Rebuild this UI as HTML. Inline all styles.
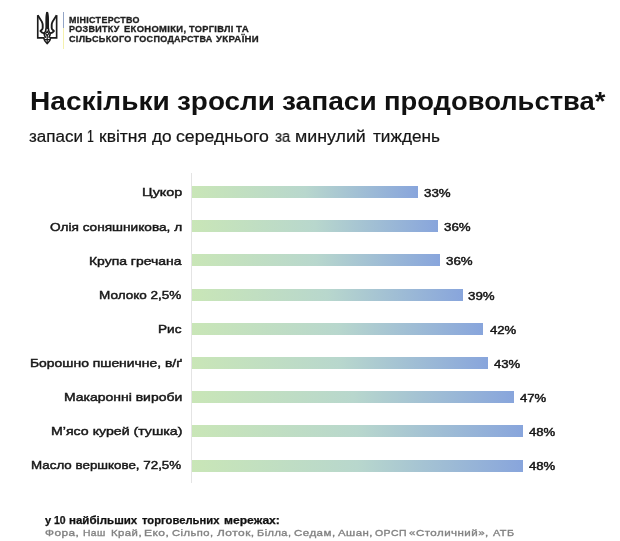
<!DOCTYPE html>
<html lang="uk"><head><meta charset="utf-8"><title>chart</title>
<style>
html,body{margin:0;padding:0;background:#fff;}
body{width:620px;height:541px;position:relative;overflow:hidden;font-family:"Liberation Sans", sans-serif;}
.t{position:absolute;white-space:nowrap;line-height:normal;transform-origin:0 0;font-family:"Liberation Sans", sans-serif;will-change:transform;}
.bar{position:absolute;left:192px;height:11.9px;background:linear-gradient(90deg,#c9e6b7 0%,#b8d7cd 50%,#88a5dc 100%);}
.axis{position:absolute;left:190.5px;top:172.5px;width:1px;height:310.5px;background:#e4e4e4;}
.div1{position:absolute;left:62.7px;top:12.4px;width:1px;height:15.8px;background:#93a5c6;}
.div2{position:absolute;left:62.7px;top:28.2px;width:1px;height:20.5px;background:#f5f1ae;}
</style></head><body>
<svg class="tri" viewBox="0 0 20.4 32" width="20.4" height="32" style="position:absolute;left:36.5px;top:12.4px;overflow:visible" fill="none" stroke="#1c1c1c" stroke-width="1.65" stroke-linejoin="miter" stroke-linecap="butt">
<path d="M0.75,3.2 L0.75,25.9 L6.7,25.9 C7.1,28.3 8.4,30.1 10.2,31.5 C12,30.1 13.3,28.3 13.7,25.9 L19.65,25.9 L19.65,3.2"/>
<path stroke-width="1.9" d="M0.75,3.2 L4.8,9.6 C5.4,10.8 5.7,11.6 5.7,12.8 L5.7,16 C5.7,17.6 4.2,18.2 3.5,19.1 C4.4,20.6 5.9,21.1 7.2,21.4"/>
<path stroke-width="1.9" d="M19.65,3.2 L15.6,9.6 C15,10.8 14.7,11.6 14.7,12.8 L14.7,16 C14.7,17.6 16.2,18.2 16.9,19.1 C16,20.6 14.5,21.1 13.2,21.4"/>
<path d="M10.2,0.2 C9.3,2 9.2,4 9.2,8 L9.2,15.5 C9.1,18.4 8.3,20.2 7.2,21.4 C7.1,23.2 8,24.6 8.6,25.9"/>
<path d="M10.2,0.2 C11.1,2 11.2,4 11.2,8 L11.2,15.5 C11.3,18.4 12.1,20.2 13.2,21.4 C13.3,23.2 12.4,24.6 11.8,25.9"/>
<path d="M10.2,0.6 L10.2,17" stroke-width="1.6"/>
<path d="M10.2,22.6 L10.2,31" stroke-width="1.2"/>
<path d="M7,27.6 L13.4,27.6" stroke-width="1.2"/>
<path d="M10.2,19.2 L8.6,21.6 L10.2,23.6 L11.8,21.6 Z" stroke-width="1.1"/>
</svg>

<div class="div1"></div><div class="div2"></div>
<div class="axis"></div>
<div class='bar' style='top:186.10px;width:226.1px'></div>
<div class='bar' style='top:220.29px;width:246.0px'></div>
<div class='bar' style='top:254.48px;width:248.0px'></div>
<div class='bar' style='top:288.67px;width:271.0px'></div>
<div class='bar' style='top:322.86px;width:291.0px'></div>
<div class='bar' style='top:357.05px;width:296.2px'></div>
<div class='bar' style='top:391.24px;width:321.5px'></div>
<div class='bar' style='top:425.43px;width:331.0px'></div>
<div class='bar' style='top:459.62px;width:331.3px'></div>
<div class='t' style='left:69.16px;top:14.59px;font-size:8.3px;font-weight:bold;color:#1f1f1f;letter-spacing:0.3px;word-spacing:0px;transform:scaleX(1.0734);-webkit-text-stroke:0.3px #1f1f1f;'>МІНІСТЕРСТВО</div>
<div class='t' style='left:69.46px;top:24.19px;font-size:8.3px;font-weight:bold;color:#1f1f1f;letter-spacing:0.3px;word-spacing:0px;transform:scaleX(1.0811);-webkit-text-stroke:0.3px #1f1f1f;'>РОЗВИТКУ</div>
<div class='t' style='left:123.83px;top:24.19px;font-size:8.3px;font-weight:bold;color:#1f1f1f;letter-spacing:0.3px;word-spacing:0px;transform:scaleX(1.1330);-webkit-text-stroke:0.3px #1f1f1f;'>ЕКОНОМІКИ,</div>
<div class='t' style='left:188.70px;top:24.19px;font-size:8.3px;font-weight:bold;color:#1f1f1f;letter-spacing:0.3px;word-spacing:0px;transform:scaleX(1.1108);-webkit-text-stroke:0.3px #1f1f1f;'>ТОРГІВЛІ</div>
<div class='t' style='left:235.90px;top:24.19px;font-size:8.3px;font-weight:bold;color:#1f1f1f;letter-spacing:0.3px;word-spacing:0px;transform:scaleX(1.1714);-webkit-text-stroke:0.3px #1f1f1f;'>ТА</div>
<div class='t' style='left:69.23px;top:33.99px;font-size:8.3px;font-weight:bold;color:#1f1f1f;letter-spacing:0.3px;word-spacing:0px;transform:scaleX(1.0903);-webkit-text-stroke:0.3px #1f1f1f;'>СІЛЬСЬКОГО</div>
<div class='t' style='left:134.16px;top:33.99px;font-size:8.3px;font-weight:bold;color:#1f1f1f;letter-spacing:0.3px;word-spacing:0px;transform:scaleX(1.0825);-webkit-text-stroke:0.3px #1f1f1f;'>ГОСПОДАРСТВА</div>
<div class='t' style='left:216.00px;top:33.99px;font-size:8.3px;font-weight:bold;color:#1f1f1f;letter-spacing:0.3px;word-spacing:0px;transform:scaleX(1.1534);-webkit-text-stroke:0.3px #1f1f1f;'>УКРАЇНИ</div>
<div class='t' style='left:29.83px;top:87.38px;font-size:25px;font-weight:bold;color:#111;letter-spacing:0px;word-spacing:0px;transform:scaleX(1.1231);'>Наскільки</div>
<div class='t' style='left:176.86px;top:87.38px;font-size:25px;font-weight:bold;color:#111;letter-spacing:0px;word-spacing:0px;transform:scaleX(1.1155);'>зросли</div>
<div class='t' style='left:281.86px;top:87.38px;font-size:25px;font-weight:bold;color:#111;letter-spacing:0px;word-spacing:0px;transform:scaleX(1.1229);'>запаси</div>
<div class='t' style='left:383.88px;top:87.38px;font-size:25px;font-weight:bold;color:#111;letter-spacing:0px;word-spacing:0px;transform:scaleX(1.0948);'>продовольства*</div>
<div class='t' style='left:28.97px;top:128.32px;font-size:16px;font-weight:normal;color:#151515;letter-spacing:0px;word-spacing:0px;transform:scaleX(1.0640);-webkit-text-stroke:0.2px #151515;'>запаси</div>
<div class='t' style='left:86.84px;top:128.32px;font-size:16px;font-weight:normal;color:#151515;letter-spacing:0px;word-spacing:0px;transform:scaleX(0.7704);-webkit-text-stroke:0.2px #151515;'>1</div>
<div class='t' style='left:98.91px;top:128.32px;font-size:16px;font-weight:normal;color:#151515;letter-spacing:0px;word-spacing:0px;transform:scaleX(1.0898);-webkit-text-stroke:0.2px #151515;'>квітня</div>
<div class='t' style='left:151.63px;top:128.32px;font-size:16px;font-weight:normal;color:#151515;letter-spacing:0px;word-spacing:0px;transform:scaleX(1.0783);-webkit-text-stroke:0.2px #151515;'>до</div>
<div class='t' style='left:176.07px;top:128.32px;font-size:16px;font-weight:normal;color:#151515;letter-spacing:0px;word-spacing:0px;transform:scaleX(1.1045);-webkit-text-stroke:0.2px #151515;'>середнього</div>
<div class='t' style='left:274.73px;top:128.32px;font-size:16px;font-weight:normal;color:#151515;letter-spacing:0px;word-spacing:0px;transform:scaleX(0.9460);-webkit-text-stroke:0.2px #151515;'>за</div>
<div class='t' style='left:295.39px;top:128.32px;font-size:16px;font-weight:normal;color:#151515;letter-spacing:0px;word-spacing:0px;transform:scaleX(1.1122);-webkit-text-stroke:0.2px #151515;'>минулий</div>
<div class='t' style='left:372.73px;top:128.32px;font-size:16px;font-weight:normal;color:#151515;letter-spacing:0px;word-spacing:0px;transform:scaleX(1.0732);-webkit-text-stroke:0.2px #151515;'>тиждень</div>
<div class='t' style='left:141.68px;top:185.42px;font-size:11.8px;font-weight:normal;color:#161616;letter-spacing:0px;word-spacing:0px;transform:scaleX(1.2190);-webkit-text-stroke:0.45px #161616;'>Цукор</div>
<div class='t' style='left:424.08px;top:187.22px;font-size:10.7px;font-weight:normal;color:#161616;letter-spacing:0px;word-spacing:0px;transform:scaleX(1.2439);-webkit-text-stroke:0.45px #161616;'>33%</div>
<div class='t' style='left:50.02px;top:219.52px;font-size:11.8px;font-weight:normal;color:#161616;letter-spacing:0px;word-spacing:0px;transform:scaleX(1.1566);-webkit-text-stroke:0.45px #161616;'>Олія соняшникова, л</div>
<div class='t' style='left:443.88px;top:221.32px;font-size:10.7px;font-weight:normal;color:#161616;letter-spacing:0px;word-spacing:0px;transform:scaleX(1.2439);-webkit-text-stroke:0.45px #161616;'>36%</div>
<div class='t' style='left:88.82px;top:253.62px;font-size:11.8px;font-weight:normal;color:#161616;letter-spacing:0px;word-spacing:0px;transform:scaleX(1.1819);-webkit-text-stroke:0.45px #161616;'>Крупа гречана</div>
<div class='t' style='left:446.18px;top:255.42px;font-size:10.7px;font-weight:normal;color:#161616;letter-spacing:0px;word-spacing:0px;transform:scaleX(1.2439);-webkit-text-stroke:0.45px #161616;'>36%</div>
<div class='t' style='left:99.35px;top:287.72px;font-size:11.8px;font-weight:normal;color:#161616;letter-spacing:0px;word-spacing:0px;transform:scaleX(1.1461);-webkit-text-stroke:0.45px #161616;'>Молоко 2,5%</div>
<div class='t' style='left:468.28px;top:289.52px;font-size:10.7px;font-weight:normal;color:#161616;letter-spacing:0px;word-spacing:0px;transform:scaleX(1.2439);-webkit-text-stroke:0.45px #161616;'>39%</div>
<div class='t' style='left:158.25px;top:321.82px;font-size:11.8px;font-weight:normal;color:#161616;letter-spacing:0px;word-spacing:0px;transform:scaleX(1.1526);-webkit-text-stroke:0.45px #161616;'>Рис</div>
<div class='t' style='left:489.69px;top:323.62px;font-size:10.7px;font-weight:normal;color:#161616;letter-spacing:0px;word-spacing:0px;transform:scaleX(1.2289);-webkit-text-stroke:0.45px #161616;'>42%</div>
<div class='t' style='left:29.92px;top:355.92px;font-size:11.8px;font-weight:normal;color:#161616;letter-spacing:0px;word-spacing:0px;transform:scaleX(1.1780);-webkit-text-stroke:0.45px #161616;'>Борошно пшеничне, в/ґ</div>
<div class='t' style='left:494.29px;top:357.72px;font-size:10.7px;font-weight:normal;color:#161616;letter-spacing:0px;word-spacing:0px;transform:scaleX(1.2289);-webkit-text-stroke:0.45px #161616;'>43%</div>
<div class='t' style='left:64.12px;top:390.02px;font-size:11.8px;font-weight:normal;color:#161616;letter-spacing:0px;word-spacing:0px;transform:scaleX(1.1837);-webkit-text-stroke:0.45px #161616;'>Макаронні вироби</div>
<div class='t' style='left:519.99px;top:391.82px;font-size:10.7px;font-weight:normal;color:#161616;letter-spacing:0px;word-spacing:0px;transform:scaleX(1.2289);-webkit-text-stroke:0.45px #161616;'>47%</div>
<div class='t' style='left:50.80px;top:424.12px;font-size:11.8px;font-weight:normal;color:#161616;letter-spacing:0px;word-spacing:0px;transform:scaleX(1.2000);-webkit-text-stroke:0.45px #161616;'>М’ясо курей (тушка)</div>
<div class='t' style='left:529.09px;top:425.92px;font-size:10.7px;font-weight:normal;color:#161616;letter-spacing:0px;word-spacing:0px;transform:scaleX(1.2289);-webkit-text-stroke:0.45px #161616;'>48%</div>
<div class='t' style='left:31.47px;top:458.22px;font-size:11.8px;font-weight:normal;color:#161616;letter-spacing:0px;word-spacing:0px;transform:scaleX(1.1330);-webkit-text-stroke:0.45px #161616;'>Масло вершкове, 72,5%</div>
<div class='t' style='left:529.39px;top:460.02px;font-size:10.7px;font-weight:normal;color:#161616;letter-spacing:0px;word-spacing:0px;transform:scaleX(1.2289);-webkit-text-stroke:0.45px #161616;'>48%</div>
<div class='t' style='left:44.84px;top:513.80px;font-size:10.5px;font-weight:bold;color:#111;letter-spacing:0px;word-spacing:0px;transform:scaleX(1.0545);-webkit-text-stroke:0.25px #111;'>у</div>
<div class='t' style='left:54.26px;top:513.80px;font-size:10.5px;font-weight:bold;color:#111;letter-spacing:0px;word-spacing:0px;transform:scaleX(0.9905);-webkit-text-stroke:0.25px #111;'>10</div>
<div class='t' style='left:69.48px;top:513.80px;font-size:10.5px;font-weight:bold;color:#111;letter-spacing:0px;word-spacing:0px;transform:scaleX(1.0971);-webkit-text-stroke:0.25px #111;'>найбільших</div>
<div class='t' style='left:142.03px;top:513.80px;font-size:10.5px;font-weight:bold;color:#111;letter-spacing:0px;word-spacing:0px;transform:scaleX(1.0694);-webkit-text-stroke:0.25px #111;'>торговельних</div>
<div class='t' style='left:223.84px;top:513.80px;font-size:10.5px;font-weight:bold;color:#111;letter-spacing:0px;word-spacing:0px;transform:scaleX(1.1529);-webkit-text-stroke:0.25px #111;'>мережах:</div>
<div class='t' style='left:44.80px;top:526.94px;font-size:9.9px;font-weight:normal;color:#828282;letter-spacing:0.4px;word-spacing:0px;transform:scaleX(1.1963);-webkit-text-stroke:0.35px #828282;'>Фора,</div>
<div class='t' style='left:82.72px;top:526.94px;font-size:9.9px;font-weight:normal;color:#828282;letter-spacing:0.4px;word-spacing:0px;transform:scaleX(1.0450);-webkit-text-stroke:0.35px #828282;'>Наш</div>
<div class='t' style='left:111.14px;top:526.94px;font-size:9.9px;font-weight:normal;color:#828282;letter-spacing:0.4px;word-spacing:0px;transform:scaleX(1.1480);-webkit-text-stroke:0.35px #828282;'>Край,</div>
<div class='t' style='left:144.29px;top:526.94px;font-size:9.9px;font-weight:normal;color:#828282;letter-spacing:0.4px;word-spacing:0px;transform:scaleX(1.2160);-webkit-text-stroke:0.35px #828282;'>Еко,</div>
<div class='t' style='left:171.73px;top:526.94px;font-size:9.9px;font-weight:normal;color:#828282;letter-spacing:0.4px;word-spacing:0px;transform:scaleX(1.1343);-webkit-text-stroke:0.35px #828282;'>Сільпо,</div>
<div class='t' style='left:216.90px;top:526.94px;font-size:9.9px;font-weight:normal;color:#828282;letter-spacing:0.4px;word-spacing:0px;transform:scaleX(1.2100);-webkit-text-stroke:0.35px #828282;'>Лоток,</div>
<div class='t' style='left:256.76px;top:526.94px;font-size:9.9px;font-weight:normal;color:#828282;letter-spacing:0.4px;word-spacing:0px;transform:scaleX(1.1165);-webkit-text-stroke:0.35px #828282;'>Білла,</div>
<div class='t' style='left:294.42px;top:526.94px;font-size:9.9px;font-weight:normal;color:#828282;letter-spacing:0.4px;word-spacing:0px;transform:scaleX(1.1674);-webkit-text-stroke:0.35px #828282;'>Седам,</div>
<div class='t' style='left:337.70px;top:526.94px;font-size:9.9px;font-weight:normal;color:#828282;letter-spacing:0.4px;word-spacing:0px;transform:scaleX(1.1586);-webkit-text-stroke:0.35px #828282;'>Ашан,</div>
<div class='t' style='left:374.67px;top:526.94px;font-size:9.9px;font-weight:normal;color:#828282;letter-spacing:0.4px;word-spacing:0px;transform:scaleX(1.0619);-webkit-text-stroke:0.35px #828282;'>ОРСП</div>
<div class='t' style='left:409.42px;top:526.94px;font-size:9.9px;font-weight:normal;color:#828282;letter-spacing:0.4px;word-spacing:0px;transform:scaleX(1.1684);-webkit-text-stroke:0.35px #828282;'>«Столичний»,</div>
<div class='t' style='left:492.60px;top:526.94px;font-size:9.9px;font-weight:normal;color:#828282;letter-spacing:0.4px;word-spacing:0px;transform:scaleX(1.1027);-webkit-text-stroke:0.35px #828282;'>АТБ</div>
</body></html>
